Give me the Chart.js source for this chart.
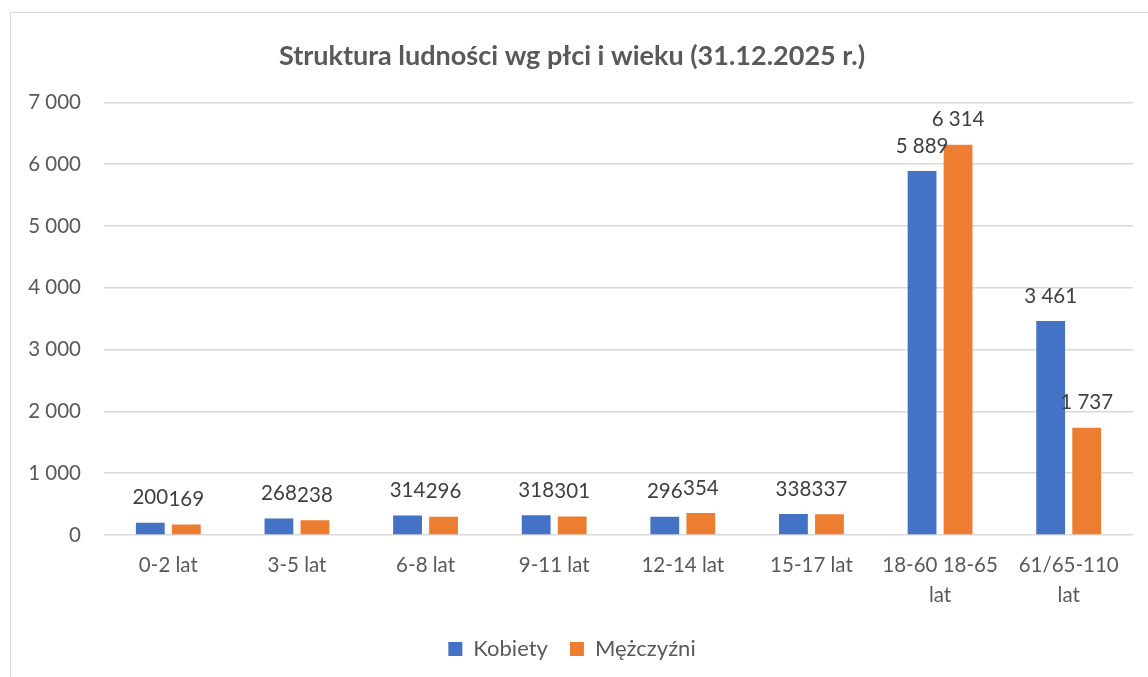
<!DOCTYPE html>
<html>
<head>
<meta charset="utf-8">
<script src="https://cdn.jsdelivr.net/npm/chart.js@4.4.1/dist/chart.umd.min.js"></script>
<style>
  html, body { margin: 0; padding: 0; background: #fff; overflow: hidden; width: 1148px; height: 677px; }
  #frame { position: absolute; left: 10px; top: 12px; width: 1160px; height: 700px; border: 1px solid #d9d9d9; }
  #wrap { position: absolute; left: 0; top: 0; width: 1160px; height: 664px; }
</style>
</head>
<body>
<div id="frame">
  <div id="wrap"><canvas id="popChart"></canvas></div>
</div>
<script>
const ageGroups = ['0-2 lat', '3-5 lat', '6-8 lat', '9-11 lat', '12-14 lat', '15-17 lat', ['18-60 18-65', 'lat'], ['61/65-110', 'lat']];
const women = [200, 268, 314, 318, 296, 338, 5889, 3461];
const men = [169, 238, 296, 301, 354, 337, 6314, 1737];
const yTicks = [0, 1000, 2000, 3000, 4000, 5000, 6000, 7000];

const fontFamily = 'Lato, "Noto Sans", sans-serif';

function fmt(v) {
  return String(v).replace(/\B(?=(\d{3})+(?!\d))/g, ' ');
}

// labels above each bar, Excel style
const barLabels = {
  id: 'barLabels',
  afterDatasetsDraw(chart) {
    const ctx = chart.ctx;
    ctx.save();
    ctx.font = '20.5px ' + fontFamily;
    ctx.fillStyle = '#404040';
    ctx.textAlign = 'center';
    ctx.textBaseline = 'middle';
    chart.data.datasets.forEach((ds, i) => {
      const meta = chart.getDatasetMeta(i);
      meta.data.forEach((bar, j) => {
        ctx.fillText(fmt(ds.data[j]), bar.x, bar.y - 25);
      });
    });
    ctx.restore();
  }
};

const ctx = document.getElementById('popChart').getContext('2d');
const chart = new Chart(ctx, {
  type: 'bar',
  data: {
    labels: ageGroups,
    datasets: [{
      label: 'Kobiety',
      data: women,
      backgroundColor: '#4472C4',
    }, {
      label: 'Mężczyźni',
      data: men,
      backgroundColor: '#ED7D31',
    }]
  },
  plugins: [barLabels],
  options: {
    responsive: true,
    maintainAspectRatio: false,
    animation: false,
    layout: { padding: { left: 0, right: 38, top: 0, bottom: 7 } },
    datasets: {
      bar: { categoryPercentage: 0.56, barPercentage: 0.8 }
    },
    plugins: {
      title: {
        display: true,
        text: 'Struktura ludności wg płci i wieku (31.12.2025 r.)',
        color: '#595959',
        font: { family: fontFamily, size: 27, weight: 'bold' },
        padding: { top: 27, bottom: 30 }
      },
      legend: {
        position: 'bottom',
        labels: {
          color: '#595959',
          font: { family: fontFamily, size: 22 },
          boxWidth: 14,
          boxHeight: 14,
          padding: 22
        }
      },
      tooltip: { enabled: false }
    },
    scales: {
      x: {
        grid: { display: false },
        border: { display: false },
        ticks: {
          color: '#595959',
          font: { family: fontFamily, size: 20.5, lineHeight: 1.45 },
          padding: 8,
          maxRotation: 0,
          autoSkip: false
        },
        afterFit(scale) { scale.height = 81; }
      },
      y: {
        min: 0,
        max: 7000,
        afterBuildTicks(scale) { scale.ticks = yTicks.map(v => ({ value: v })); },
        grid: { color: '#d9d9d9', lineWidth: 1.5, drawTicks: false },
        border: { display: false },
        ticks: {
          color: '#595959',
          font: { family: fontFamily, size: 20.5 },
          padding: 23,
          callback: v => fmt(v)
        },
        afterFit(scale) { scale.width = 93; }
      }
    }
  }
});
</script>
</body>
</html>
